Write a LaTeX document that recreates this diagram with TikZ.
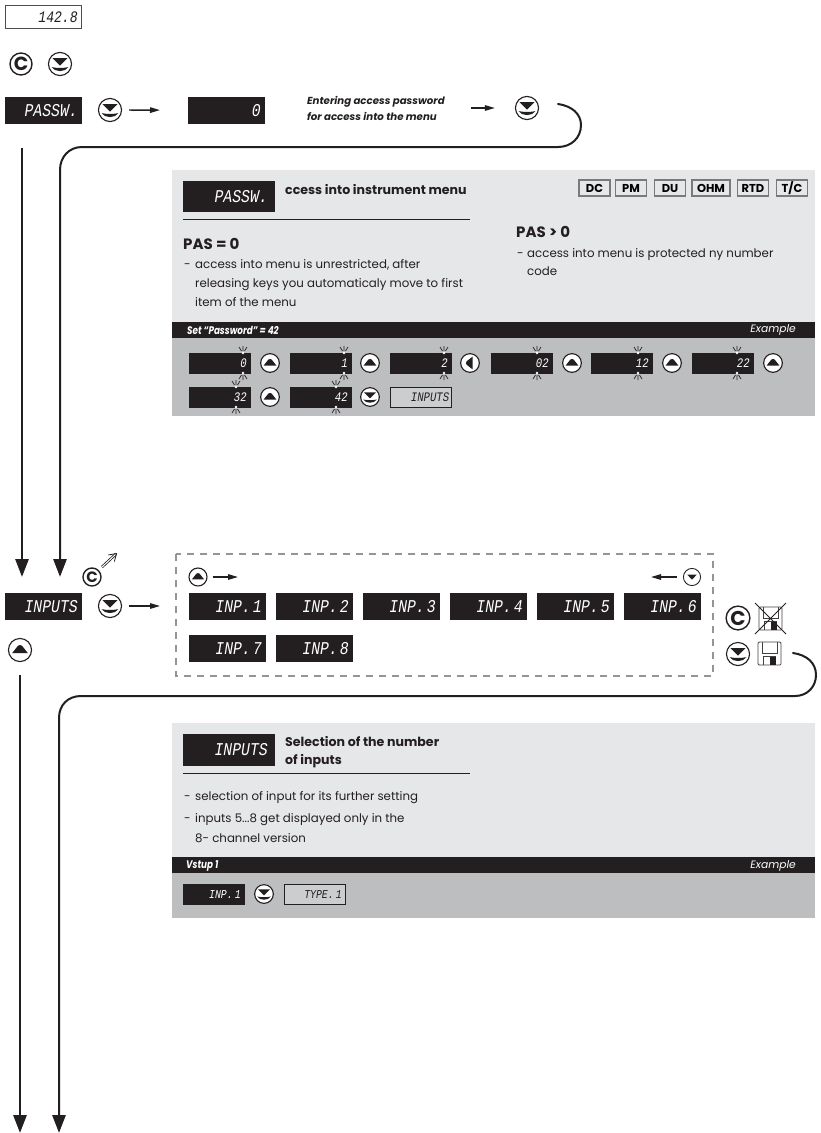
\documentclass[tikz,border=0pt]{standalone}
\usepackage{fontspec}
\setmainfont{Poppins}
\newfontfamily\lcdfont{Liberation Mono}
\usetikzlibrary{arrows.meta}
\definecolor{ink}{HTML}{231F20}
\definecolor{panel}{HTML}{E6E7E8}
\definecolor{lower}{HTML}{BCBEC0}
\definecolor{ghostfill}{HTML}{CBCDCF}
\definecolor{dashgray}{HTML}{939598}
\newcommand{\lcdtext}[2]{{\lcdfont\itshape\fontsize{#1}{#1}\selectfont\spaceskip=2.5pt\scalebox{0.82}[1]{#2}}}
\newcommand{\condtext}[1]{{\bfseries\itshape\fontsize{11}{12}\selectfont\scalebox{0.8}[1]{#1}}}
\tikzset{
  x=1pt,y=-1pt,
  dispbox/.style={rectangle,fill=ink,draw=ink,line width=0.5pt,text=white,inner sep=0pt,align=right,anchor=north west},
  bigdisp/.style={dispbox,minimum width=76pt,minimum height=26pt,text width=69pt},
  headdisp/.style={dispbox,minimum width=91pt,minimum height=30pt,text width=78pt},
  smalldisp/.style={dispbox,minimum width=61pt,minimum height=20pt,text width=54pt},
  ghost/.style={smalldisp,fill=ghostfill,draw=ink,text=ink,text width=57pt},
  btn/.style={circle,fill=white,draw=ink,line width=1.1pt,inner sep=0pt,minimum size=#1},
  btn/.default=20pt,
  hline/.style={draw=ink,line width=1.4pt,-{Triangle[length=10pt,width=5.5pt]}},
  bigline/.style={draw=ink,line width=2.8pt,-{Triangle[length=18pt,width=13pt]}},
  loopline/.style={draw=ink,line width=2pt,line cap=round},
  body/.style={anchor=west,inner sep=0pt,text=ink,text height=9pt,text depth=3pt,font=\fontsize{11.8}{13}\selectfont},
  subhead/.style={anchor=west,inner sep=0pt,text=ink,font=\bfseries\fontsize{15}{16}\selectfont},
  title/.style={anchor=west,inner sep=0pt,text=ink,align=left,font=\fontsize{12.6}{18}\selectfont\bfseries},
  tagbox/.style={draw=ink!60,line width=1.1pt,fill=panel,inner sep=0pt,minimum width=#1,minimum height=16pt,text=black,font=\bfseries\fontsize{11.5}{12}\selectfont},
  barlabel/.style={inner sep=0pt,text=white},
  extext/.style={barlabel,anchor=east,font=\itshape\fontsize{10.7}{11}\selectfont},
}
% button glyphs: #1 name, #2 x, #3 y, #4 scale (radius / 11)
\newcommand{\btndown}[4]{%
  \node[btn={#4*22pt}] (#1) at (#2,#3) {};
  \begin{scope}[shift={(#2,#3)},scale=#4]
    \fill[ink] (-7,-5.5) -- (7,-5.5) -- (0,1.5) -- cycle;
    \fill[ink] (-8,3) .. controls (-3,4) and (3,4) .. (8,3) .. controls (5,8) and (-5,8) .. (-8,3) -- cycle;
  \end{scope}}
\newcommand{\btnup}[4]{%
  \node[btn={#4*22pt}] (#1) at (#2,#3) {};
  \begin{scope}[shift={(#2,#3)},scale=#4]
    \fill[ink] (-7.5,3) -- (7.5,3) -- (2,-4) .. controls (1,-5) and (-1,-5) .. (-2,-4) -- cycle;
  \end{scope}}
\newcommand{\btnleft}[4]{%
  \node[btn={#4*22pt}] (#1) at (#2,#3) {};
  \begin{scope}[shift={(#2,#3)},scale=#4]
    \fill[ink] (3,-7.5) -- (3,7.5) -- (-4,2) .. controls (-5,1) and (-5,-1) .. (-4,-2) -- cycle;
  \end{scope}}
\newcommand{\btnlow}[4]{%
  \node[btn={#4*22pt},line width=0.9pt] (#1) at (#2,#3) {};
  \begin{scope}[shift={(#2,#3)},scale=#4]
    \fill[ink] (-6,-3) -- (6,-3) -- (0,3.5) -- cycle;
  \end{scope}}
% #5 = font size of the C
\newcommand{\btnc}[5]{%
  \node[btn={#4*22pt},line width=1.4pt,text=ink,font=\bfseries\fontsize{#5}{#5}\selectfont] (#1) at (#2,#3) {C};}
% blink rays at x=#1, top edge #2, bottom edge #3
\newcommand{\blink}[3]{%
  \begin{scope}[draw=ink,line width=0.7pt]
    \fill[white] (#1,#2) circle (1.3);
    \fill[white] (#1,#3) circle (1.3);
    \draw (#1,#2-2) -- (#1,#2-7) (#1-1.5,#2-2) -- (#1-4,#2-6) (#1+1.5,#2-2) -- (#1+4,#2-6);
    \draw (#1,#3+2) -- (#1,#3+7) (#1-1.5,#3+2) -- (#1-4,#3+6) (#1+1.5,#3+2) -- (#1+4,#3+6);
  \end{scope}}
\newcommand{\diskicon}[2]{%
  \begin{scope}[shift={(#1,#2)}]
    \draw[ink!85,line width=0.8pt,rounded corners=1.2pt] (0,0) rectangle (23,23);
    \draw[ink!85,line width=0.8pt] (4,0) -- (4,11) -- (19,11) -- (19,0);
    \draw[ink!85,line width=0.8pt] (5.5,23) -- (5.5,14.5) -- (17.5,14.5) -- (17.5,23);
    \fill[ink] (11.5,15) rectangle (17.5,23);
  \end{scope}}
\begin{document}
\begin{tikzpicture}
\useasboundingbox (0,0) rectangle (820,1133);
\fill[white] (0,0) rectangle (820,1133);

%% top rows
\node[bigdisp,minimum height=23pt,fill=white,draw=ink!80,text=ink] (dVal) at (5,5) {\lcdtext{16}{142.8}};
\btnc{bC}{21}{64}{1}{19}
\btndown{bD}{60}{64}{1.05}

\node[bigdisp] (dPass) at (5,97) {\lcdtext{18}{PASSW.}};
\btndown{bP}{110}{110}{1.05}
\node[bigdisp] (dZero) at (188,97) {\lcdtext{18}{0}};
\draw[hline,shorten <=7pt,shorten >=28pt] (bP) -- (dZero);
\node[anchor=west,inner sep=0pt,align=left,text=ink,font=\bfseries\itshape\fontsize{10.2}{16}\selectfont] (tEnter) at (307,108) {Entering access password\\for access into the menu};
\btndown{bQ}{527}{108}{1.05}
\coordinate (enterStart) at (471,108);
\draw[hline,shorten >=20pt] (enterStart) -- (bQ);

%% first return loop
\coordinate (loopA) at (558,104);
\coordinate (dropA) at (60,577);
\draw[loopline] (loopA) .. controls (572,106) and (581,114) .. (581,125) .. controls (581,138) and (571,147) .. (558,147) -- (82,147) .. controls (69,147) and (60,157) .. (60,170) -- (60,562);
\coordinate (dropAtop) at (60,170);
\draw[bigline] (dropAtop) -- (dropA);
\coordinate (startL) at (22,148);
\coordinate (dropL) at (22,577);
\draw[bigline] (startL) -- (dropL);

%% panel 1
\fill[panel] (172,170) rectangle (815,322);
\fill[ink] (172,322) rectangle (815,338);
\fill[lower] (172,338) rectangle (815,416);
\node[headdisp] (hPass) at (183,181) {\lcdtext{18}{PASSW.}};
\node[title,anchor=north west] (tAccess) at (285,184) {ccess into instrument menu};
\draw[ink,line width=0.9pt] (183,219.5) -- (470,219.5);
\node[subhead] (tP0) at (183,244) {PAS = 0};
\node[body] (d1) at (184,265) {-};
\node[body] (t1) at (195,265) {access into menu is unrestricted, after};
\node[body] (t2) at (195,284.5) {releasing keys you automaticaly move to first};
\node[body] (t3) at (195,303) {item of the menu};
\node[subhead] (tP1) at (516,232) {PAS > 0};
\node[body] (d2) at (517,254) {-};
\node[body] (t4) at (527,254) {access into menu is protected ny number};
\node[body] (t5) at (527,272) {code};
\node[tagbox=31pt] (tgDC) at (594.5,188) {DC};
\node[tagbox=31pt] (tgPM) at (631,188) {PM};
\node[tagbox=31pt] (tgDU) at (670,188) {DU};
\node[tagbox=38pt] (tgOHM) at (711,188) {OHM};
\node[tagbox=31pt] (tgRTD) at (753,188) {RTD};
\node[tagbox=31pt] (tgTC) at (792,188) {T/C};
\node[barlabel,anchor=west] (bar1) at (187,330) {\condtext{Set “Password” = 42}};
\node[extext] (ex1) at (796,330) {Example};

\node[smalldisp] (s1) at (189,353) {\lcdtext{13}{0}};
\btnup{b1}{270}{363}{0.85}
\node[smalldisp] (s2) at (290,353) {\lcdtext{13}{1}};
\btnup{b2}{370}{363}{0.85}
\node[smalldisp] (s3) at (390,353) {\lcdtext{13}{2}};
\btnleft{b3}{470}{363}{0.85}
\node[smalldisp] (s4) at (491,353) {\lcdtext{13}{02}};
\btnup{b4}{572}{363}{0.85}
\node[smalldisp] (s5) at (591,353) {\lcdtext{13}{12}};
\btnup{b5}{672}{363}{0.85}
\node[smalldisp] (s6) at (692,353) {\lcdtext{13}{22}};
\btnup{b6}{773}{363}{0.85}
\node[smalldisp] (s7) at (189,387) {\lcdtext{13}{32}};
\btnup{b7}{270}{397}{0.85}
\node[smalldisp] (s8) at (290,387) {\lcdtext{13}{42}};
\btndown{b8}{370}{397}{0.85}
\node[ghost] (s9) at (390,387) {\lcdtext{13}{INPUTS}};
\blink{243}{353}{373}
\blink{344}{353}{373}
\blink{444}{353}{373}
\blink{537}{353}{373}
\blink{638}{353}{373}
\blink{737}{353}{373}
\blink{236}{387}{407}
\blink{336}{387}{407}

%% inputs row
\node[bigdisp] (dInputs) at (5,593) {\lcdtext{18}{INPUTS}};
\btnc{cS}{92}{577}{0.82}{15}
\coordinate (nwA) at (102,567);
\coordinate (nwB) at (117,553);
\draw[ink,line width=0.8pt,-{Straight Barb[length=7pt,width=9pt]},double,double distance=1pt] (nwA) -- (nwB);
\btndown{bI}{110}{606}{1.05}
\draw[dashgray,line width=1.3pt,dash pattern=on 7pt off 6pt] (176,554) rectangle (713,676);
\coordinate (iEnd) at (160,606);
\draw[hline,shorten <=7pt] (bI) -- (iEnd);
\btnup{bU}{198}{577}{0.82}
\coordinate (uEnd) at (238,577);
\draw[hline,shorten <=5pt] (bU) -- (uEnd);
\btnlow{bV}{692}{577}{0.78}
\coordinate (vEnd) at (651,577);
\draw[hline,shorten <=6pt] (bV) -- (vEnd);
\node[bigdisp] (i1) at (189,593) {\lcdtext{18}{INP. 1}};
\node[bigdisp] (i2) at (276,593) {\lcdtext{18}{INP. 2}};
\node[bigdisp] (i3) at (363,593) {\lcdtext{18}{INP. 3}};
\node[bigdisp] (i4) at (450,593) {\lcdtext{18}{INP. 4}};
\node[bigdisp] (i5) at (537,593) {\lcdtext{18}{INP. 5}};
\node[bigdisp] (i6) at (624,593) {\lcdtext{18}{INP. 6}};
\node[bigdisp] (i7) at (189,635) {\lcdtext{18}{INP. 7}};
\node[bigdisp] (i8) at (276,635) {\lcdtext{18}{INP. 8}};
\btnc{cX}{738}{618}{1.08}{20}
\diskicon{759}{607}
\draw[ink,line width=0.9pt] (755,603) -- (786,634) (786,603) -- (755,634);
\btndown{bS}{738}{654}{1.05}
\diskicon{758}{642}
\btnup{bW}{20}{650}{1.05}

%% second loop
\coordinate (loopB) at (793,653);
\draw[loopline] (loopB) .. controls (807,655) and (816,663) .. (816,675) .. controls (816,687) and (807,696) .. (795,696) -- (81,696) .. controls (68,696) and (59,705) .. (59,718) -- (59,1118);
\coordinate (startB) at (59,718);
\coordinate (endB) at (59,1133);
\draw[bigline] (startB) -- (endB);
\coordinate (startC) at (20,675);
\coordinate (endC) at (20,1133);
\draw[bigline] (startC) -- (endC);

%% panel 2
\fill[panel] (172,723) rectangle (815,857);
\fill[ink] (172,857) rectangle (815,873);
\fill[lower] (172,873) rectangle (815,918);
\node[headdisp,minimum height=31pt] (hInp) at (183,734) {\lcdtext{18}{INPUTS}};
\node[title,anchor=north west] (tSel) at (285,736) {Selection of the number\\of inputs};
\draw[ink,line width=0.9pt] (183,773) -- (470,773);
\node[body] (d3) at (184,797) {-};
\node[body] (t6) at (195,797) {selection of input for its further setting};
\node[body] (d4) at (184,819) {-};
\node[body] (t7) at (195,819) {inputs 5...8 get displayed only in the};
\node[body] (t8) at (195,839) {8- channel version};
\node[barlabel,anchor=west] (bar2) at (186,866) {\condtext{Vstup 1}};
\node[extext] (ex2) at (796,866) {Example};
\node[smalldisp] (v1) at (183,884) {\lcdtext{12}{INP. 1}};
\btndown{b9}{264}{894}{0.85}
\node[ghost,text width=54pt] (v2) at (284,884) {\lcdtext{12}{TYPE. 1}};
\end{tikzpicture}
\end{document}
